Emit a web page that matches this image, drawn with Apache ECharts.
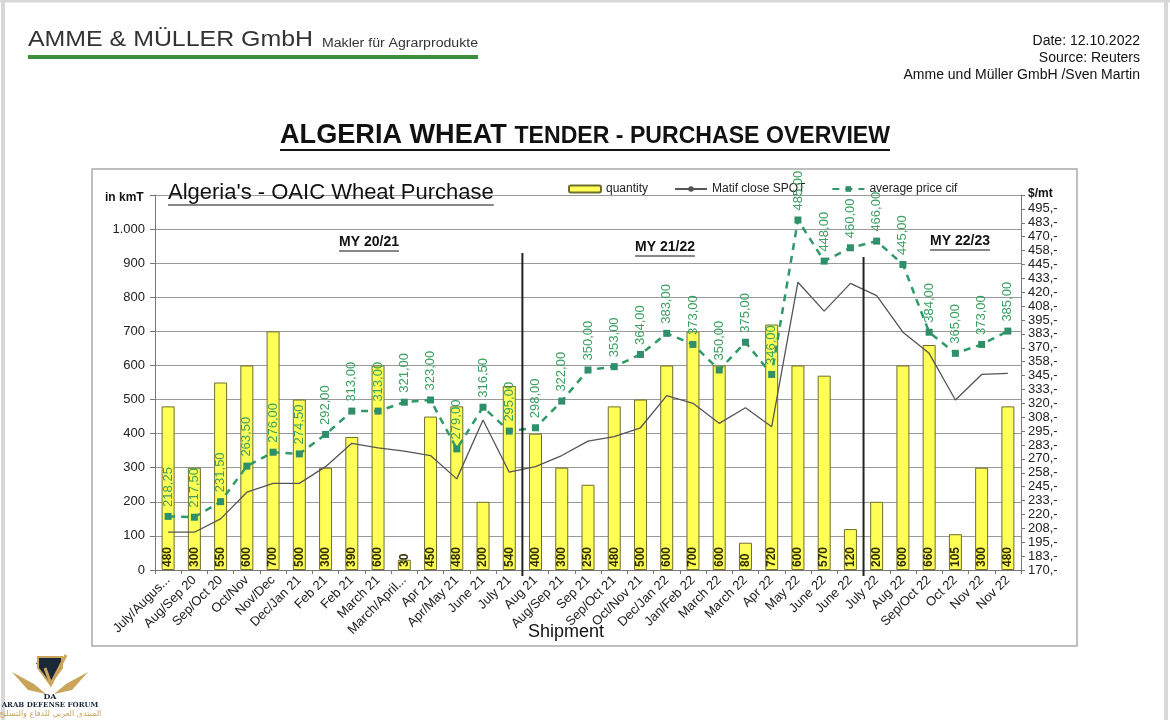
<!DOCTYPE html>
<html><head><meta charset="utf-8">
<script src="https://cdn.jsdelivr.net/npm/echarts@6/dist/echarts.min.js"></script>
<style>html,body{margin:0;padding:0;background:#fff}#c{width:1170px;height:720px}</style>
</head><body><div id="c"></div>
<script>
const categories = ['July/Augus...','Aug/Sep 20','Sep/Oct 20','Oct/Nov','Nov/Dec','Dec/Jan 21','Feb 21','Feb 21','March 21','March/April...','Apr 21','Apr/May 21','June 21','July 21','Aug 21','Aug/Sep 21','Sep 21','Sep/Oct 21','Oct/Nov 21','Dec/Jan 22','Jan/Feb 22','March 22','March 22','Apr 22','May 22','June 22','June 22','July 22','Aug 22','Sep/Oct 22','Oct 22','Nov 22','Nov 22'];
const quantity = [480,300,550,600,700,500,300,390,600,30,450,480,200,540,400,300,250,480,500,600,700,600,80,720,600,570,120,200,600,660,105,300,480];
const matifClose = [204,204,216,240,248,248,263,284,280,277,273,252,305,258,263,273,286,290,298,327,320,302,316,299,429,403,428,417,384,365,323,346,347];
const avgPrice = [218.25,217.50,231.50,263.50,276.00,274.50,292.00,313.00,313.00,321.00,323.00,279.00,316.50,295.00,298.00,322.00,350.00,353.00,364.00,383.00,373.00,350.00,375.00,346.00,485.00,448.00,460.00,466.00,445.00,384.00,365.00,373.00,385.00];
const leftAxis = {min:0, max:1100, step:100};
const rightAxis = {min:170, max:507.5, step:12.5};
const seasons = [{label:'MY 20/21'},{label:'MY 21/22'},{label:'MY 22/23'}];
const seasonBreaks = [14, 27]; // first category index of new season

const FONT = '"Liberation Sans", Arial, sans-serif';
const chart = echarts.init(document.getElementById('c'));
const ctx = document.createElement('canvas').getContext('2d');
function tw(text, font){ ctx.font = font; return ctx.measureText(text).width; }
function thousands(v){ return String(v).replace(/\B(?=(\d{3})+(?!\d))/g,'.'); }

const option = {
  animation:false,
  textStyle:{fontFamily:FONT},
  legend:{left:563, top:178, itemWidth:32, itemHeight:7, itemGap:26,
    textStyle:{fontSize:12,color:'#222',fontFamily:FONT},
    data:['quantity','Matif close SPOT','average price cif']},
  grid:{left:155,right:149,top:195,bottom:150},
  xAxis:{type:'category', data:categories,
    axisLine:{lineStyle:{color:'#777'}},
    axisTick:{show:true,length:4,lineStyle:{color:'#777'}},
    axisLabel:{rotate:45,fontSize:13,color:'#222',interval:0,margin:8,fontFamily:FONT}},
  yAxis:[
    {type:'value',min:leftAxis.min,max:leftAxis.max,interval:leftAxis.step,
     axisLine:{show:true,lineStyle:{color:'#777'}},
     axisTick:{show:true,length:5,lineStyle:{color:'#777'}},
     splitLine:{lineStyle:{color:'#999',width:1}},
     axisLabel:{fontSize:13,color:'#222',margin:10,fontFamily:FONT,
       formatter:v=> v>=leftAxis.max ? '' : thousands(v)}},
    {type:'value',position:'right',min:rightAxis.min,max:rightAxis.max,interval:rightAxis.step,
     axisLine:{show:true,lineStyle:{color:'#777'}},
     axisTick:{show:true,length:4,lineStyle:{color:'#777'}},
     splitLine:{show:false},
     axisLabel:{fontSize:13,color:'#222',margin:7,fontFamily:FONT,
       formatter:v=> v>=rightAxis.max-0.01 ? '' : Math.round(v)+',-'}}
  ],
  series:[
    {name:'quantity',type:'bar',data:quantity,barWidth:13,z:1,
     itemStyle:{color:'#ffff55',borderColor:'#6e6e30',borderWidth:1},
     label:{show:true,position:'insideBottom',rotate:90,align:'left',verticalAlign:'middle',distance:3,
       fontSize:12,fontWeight:'bold',color:'#2e2e00',fontFamily:FONT}},
    {name:'Matif close SPOT',type:'line',yAxisIndex:1,data:matifClose,symbol:'none',z:3,
     lineStyle:{color:'#555',width:1.3},itemStyle:{color:'#555'}},
    {name:'average price cif',type:'line',yAxisIndex:1,data:avgPrice,symbol:'rect',symbolSize:7,z:4,
     lineStyle:{color:'#2f9a66',width:2.5,type:[7,6]},itemStyle:{color:'#2f8f6a'},
     label:{show:true,position:'top',rotate:90,align:'left',verticalAlign:'middle',distance:6,
       fontSize:13,color:'#3aa060',fontFamily:FONT,
       formatter:p=>p.value.toFixed(2).replace('.',',')}}
  ]
};
chart.setOption(option);

const g = [];
// page border
g.push({type:'line',shape:{x1:3,y1:2,x2:3,y2:720},style:{stroke:'#d8d8d8',lineWidth:4}});
g.push({type:'line',shape:{x1:0,y1:1,x2:1170,y2:1},style:{stroke:'#d8d8d8',lineWidth:3}});
g.push({type:'line',shape:{x1:1166,y1:2,x2:1166,y2:720},style:{stroke:'#d8d8d8',lineWidth:4}});
// header
const hf1 = '22px '+FONT, hf2 = '12px '+FONT;
g.push({type:'text',x:28,y:51,scaleX:285/tw('AMME & MÜLLER GmbH',hf1),style:{text:'AMME & MÜLLER GmbH',font:hf1,fill:'#333',verticalAlign:'bottom'}});
g.push({type:'text',x:322,y:50,scaleX:156/tw('Makler für Agrarprodukte',hf2),style:{text:'Makler für Agrarprodukte',font:hf2,fill:'#333',verticalAlign:'bottom'}});
g.push({type:'rect',shape:{x:28,y:55,width:450,height:4},style:{fill:'#3d8f3d'}});
['Date: 12.10.2022','Source: Reuters','Amme und Müller GmbH /Sven Martin'].forEach((t,i)=>{
  g.push({type:'text',style:{x:1140,y:41+i*17,text:t,font:'14px '+FONT,fill:'#111',align:'right',verticalAlign:'middle'}});
});
// main title
const tf1='bold 27px '+FONT, tf2='bold 23px '+FONT;
const t1='ALGERIA WHEAT ', t2='TENDER - PURCHASE OVERVIEW';
const w1=tw(t1,tf1), w2=tw(t2,tf2), ts=610/(w1+w2);
g.push({type:'text',x:280,y:149,scaleX:ts,style:{text:t1,font:tf1,fill:'#111',verticalAlign:'bottom'}});
g.push({type:'text',x:280+w1*ts,y:148,scaleX:ts,style:{text:t2,font:tf2,fill:'#111',verticalAlign:'bottom'}});
g.push({type:'line',shape:{x1:280,y1:150,x2:890,y2:150},style:{stroke:'#111',lineWidth:2}});
// chart frame
g.push({type:'rect',shape:{x:92,y:169,width:985,height:477},style:{fill:'none',stroke:'#aaa',lineWidth:1.5},z:-1});
// chart title
const cf='22px '+FONT, ct="Algeria's - OAIC Wheat Purchase";
g.push({type:'text',style:{x:168,y:193,text:ct,font:cf,fill:'#111',verticalAlign:'middle'}});
g.push({type:'line',shape:{x1:168,y1:205,x2:168+tw(ct,cf),y2:205},style:{stroke:'#111',lineWidth:1.2}});
g.push({type:'text',style:{x:105,y:198,text:'in kmT',font:'bold 12px '+FONT,fill:'#111',verticalAlign:'middle'}});
g.push({type:'text',style:{x:1028,y:194,text:'$/mt',font:'bold 12px '+FONT,fill:'#111',verticalAlign:'middle'}});
g.push({type:'text',style:{x:528,y:632,text:'Shipment',font:'18px '+FONT,fill:'#111',verticalAlign:'middle'}});
// season labels
const myPos=[[369,242],[665,247],[960,241]];
seasons.forEach((s,i)=>{
  const f='bold 14px '+FONT, w=tw(s.label,f);
  g.push({type:'text',style:{x:myPos[i][0],y:myPos[i][1],text:s.label,font:f,fill:'#111',align:'center',verticalAlign:'middle'}});
  g.push({type:'line',shape:{x1:myPos[i][0]-w/2,y1:myPos[i][1]+9,x2:myPos[i][0]+w/2,y2:myPos[i][1]+9},style:{stroke:'#111',lineWidth:1.2}});
});
// season separators
const sepTop=[930,918];
seasonBreaks.forEach((b,i)=>{
  const xa=chart.convertToPixel({xAxisIndex:0},b-1), xb=chart.convertToPixel({xAxisIndex:0},b);
  const x=(xa+xb)/2;
  const yt=chart.convertToPixel({yAxisIndex:0},sepTop[i]), yb=chart.convertToPixel({yAxisIndex:0},0);
  g.push({type:'line',z:10,shape:{x1:x,y1:yt,x2:x,y2:yb+6},style:{stroke:'#222',lineWidth:2}});
});
// watermark logo
g.push({type:'polygon',shape:{points:[[36,663],[42,660],[60,668],[50,684]]},style:{fill:'#1b2838'}});
g.push({type:'polygon',shape:{points:[[38,657],[62,657],[62,668],[50,684],[38,668]]},style:{fill:'#1b2838',stroke:'#c9a45a',lineWidth:2}});
g.push({type:'polyline',shape:{points:[[45,668],[51,684],[66,655]]},style:{stroke:'#c9a45a',lineWidth:3,fill:'none'}});
g.push({type:'polygon',shape:{points:[[12,672],[34,684],[46,694],[28,690]]},style:{fill:'#c9a45a'}});
g.push({type:'polygon',shape:{points:[[88,672],[66,684],[54,694],[72,690]]},style:{fill:'#c9a45a'}});
g.push({type:'text',style:{x:50,y:697,text:'DA',font:'bold 8px "DejaVu Serif", serif',fill:'#1b2838',align:'center',verticalAlign:'middle'}});
g.push({type:'text',style:{x:50,y:705,text:'ARAB DEFENSE FORUM',font:'bold 7px "DejaVu Serif", serif',fill:'#1b2838',align:'center',verticalAlign:'middle'}});
g.push({type:'text',style:{x:50,y:714,text:'المنتدى العربي للدفاع والتسليح',font:'8px "DejaVu Sans", sans-serif',fill:'#c9a45a',align:'center',verticalAlign:'middle'}});
chart.setOption({graphic:g});
</script></body></html>
